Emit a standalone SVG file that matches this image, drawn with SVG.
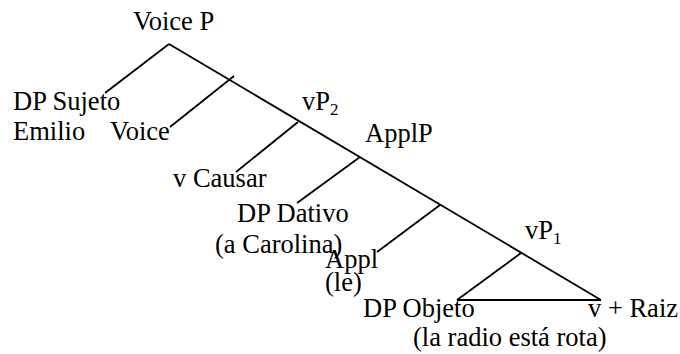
<svg xmlns="http://www.w3.org/2000/svg" width="680" height="354" viewBox="0 0 680 354" font-family="'Liberation Serif', Tinos, 'Times New Roman', Times, serif">
<style>
text{font-family:'Liberation Serif',Tinos,'Times New Roman',Times,serif;font-size:26.5px;fill:#000}
.sub{font-size:17px}
line{stroke:#000;stroke-width:1.8;stroke-linecap:butt}
</style>
<rect width="680" height="354" fill="#fff"/>
<g id="connectors">
<line x1="169" y1="44" x2="601" y2="300"/>
<line x1="169" y1="44" x2="105" y2="93"/>
<line x1="234" y1="76" x2="170" y2="127"/>
<line x1="298" y1="122" x2="236" y2="172"/>
<line x1="360" y1="157" x2="297" y2="203"/>
<line x1="440" y1="205" x2="377" y2="252"/>
<line x1="521" y1="253" x2="457" y2="300"/>
<line x1="457" y1="300" x2="601" y2="300"/>
</g>
<g id="voiceP"><text x="133" y="30">Voice P</text></g>
<g id="dpSujeto"><text x="13" y="110">DP Sujeto</text><text x="13" y="140">Emilio</text></g>
<g id="voice"><text x="110" y="140">Voice</text></g>
<g id="vP2"><text x="302" y="110">vP<tspan class="sub" dy="5">2</tspan></text></g>
<g id="vCausar"><text x="173" y="187">v Causar</text></g>
<g id="applP"><text x="365" y="142">ApplP</text></g>
<g id="dpDativo"><text x="237" y="222">DP Dativo</text><text x="215" y="253">(a Carolina)</text></g>
<g id="appl"><text x="325" y="268">Appl</text><text x="325" y="291">(le)</text></g>
<g id="vP1"><text x="525" y="239">vP<tspan class="sub" dy="5">1</tspan></text></g>
<g id="dpObjeto"><text x="363" y="317">DP Objeto</text><text x="413" y="346">(la radio está rota)</text></g>
<g id="vRaiz"><text x="588" y="317">v + Raiz</text></g>
</svg>
